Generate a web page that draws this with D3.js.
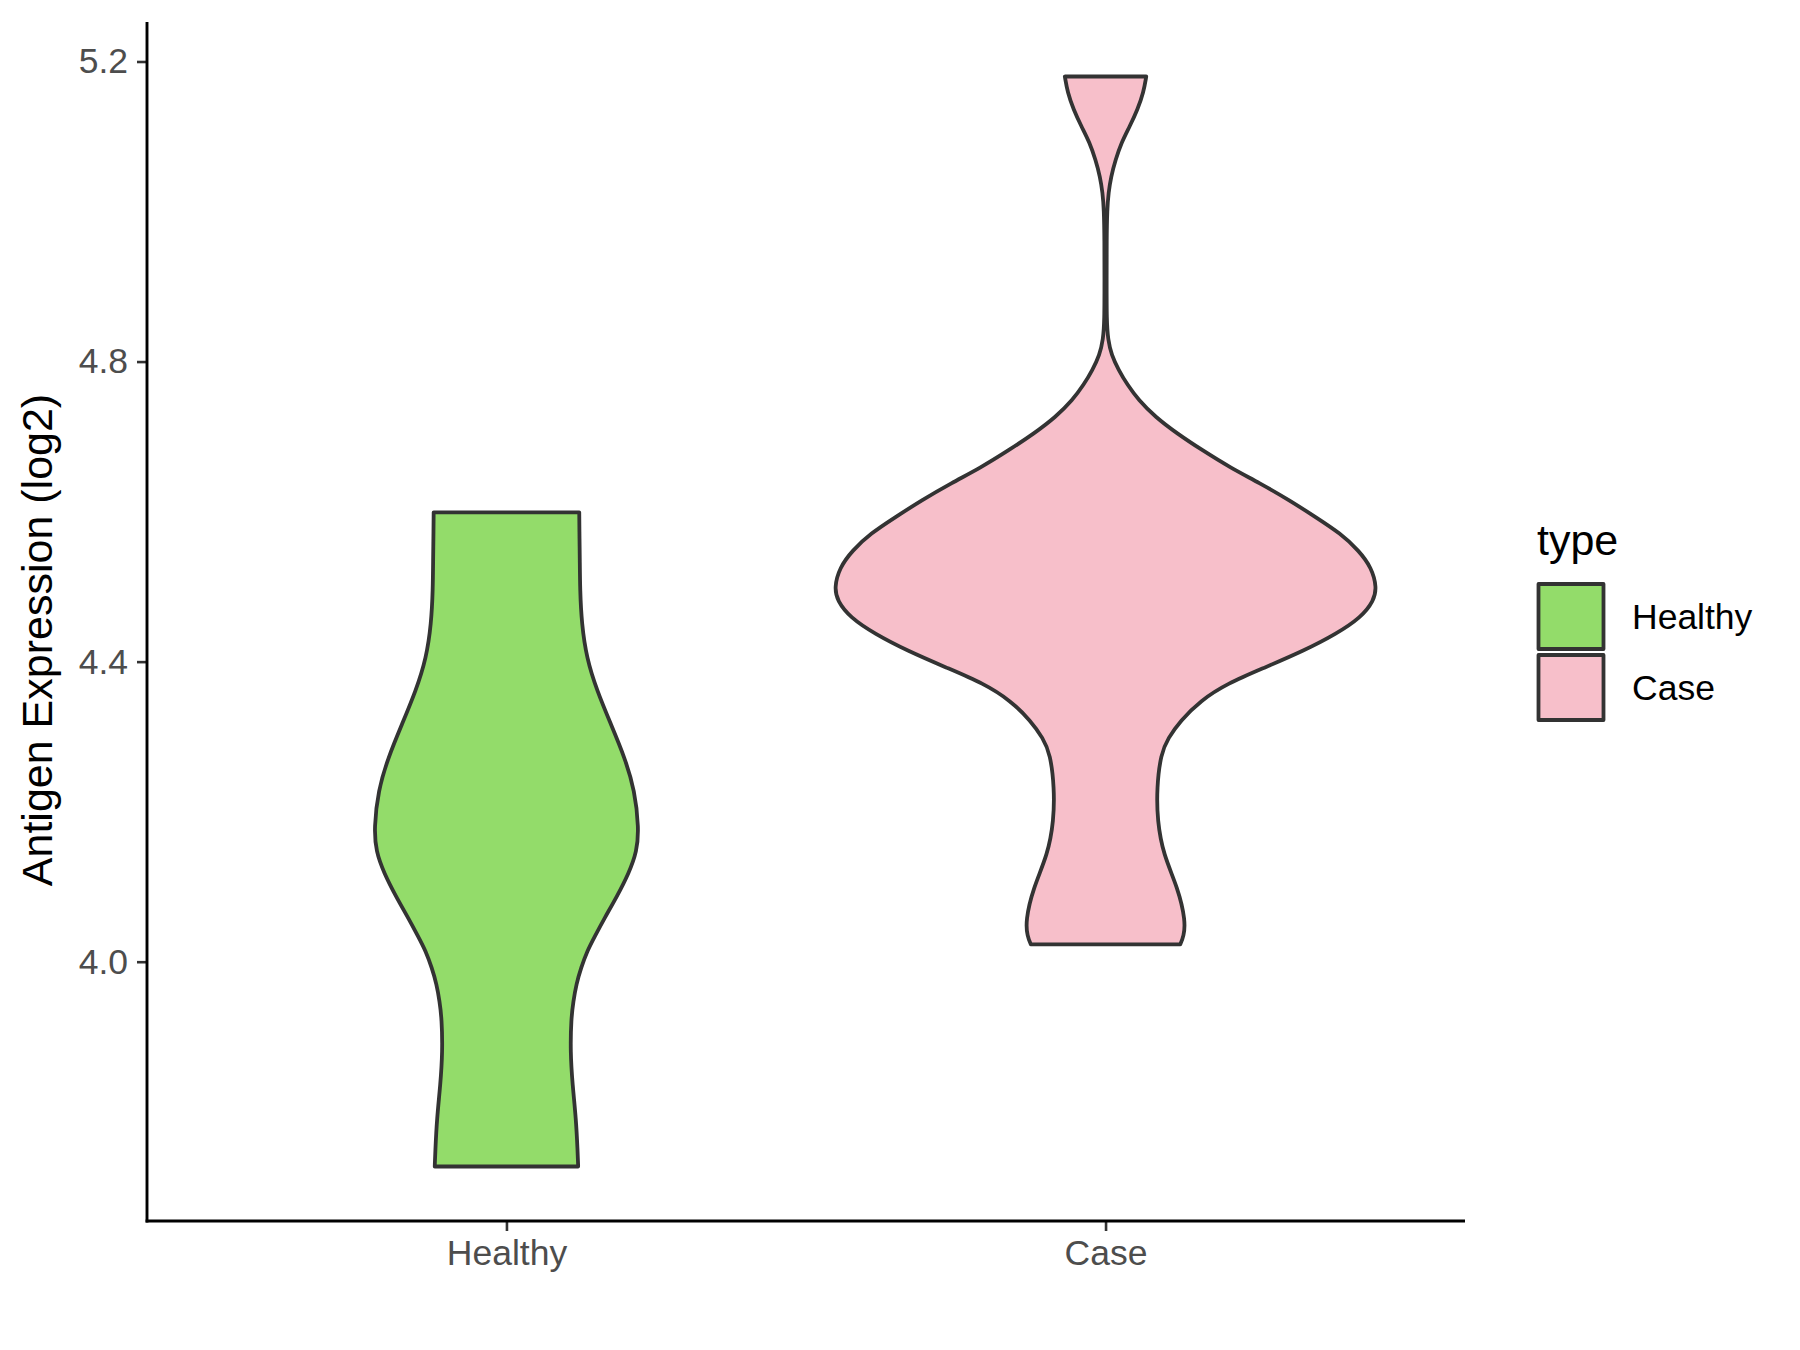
<!DOCTYPE html>
<html>
<head>
<meta charset="utf-8">
<script src="https://cdn.jsdelivr.net/npm/d3@7"></script>
<style>
  html, body { margin: 0; padding: 0; background: #ffffff; }
  svg { display: block; }
  text { font-family: "Liberation Sans", Arial, Helvetica, sans-serif; }
</style>
</head>
<body>
<svg id="chart" width="1800" height="1350"></svg>
<script>
// ---- data ----
const categories = ["Healthy", "Case"];
const fillColors = ["#93DC6A", "#F7BFCA"];
const yTicks = [4.0, 4.4, 4.8, 5.2];
const yTitle = "Antigen Expression (log2)";
const legendTitle = "type";

// violin outlines: expression value and relative half-width (1 = widest violin)
const healthyValues = [4.599, 4.562, 4.539, 4.495, 4.451, 4.405, 4.361, 4.317, 4.272, 4.228, 4.178, 4.147, 4.118, 4.087, 4.057, 4.034, 4.014, 3.992, 3.970, 3.947, 3.924, 3.880, 3.836, 3.791, 3.747, 3.727];
const healthyWidths = [0.270, 0.271, 0.272, 0.273, 0.279, 0.297, 0.336, 0.387, 0.439, 0.476, 0.491, 0.484, 0.454, 0.410, 0.362, 0.328, 0.299, 0.277, 0.259, 0.248, 0.240, 0.237, 0.245, 0.258, 0.264, 0.266];

const caseValues = [5.180, 5.159, 5.136, 5.113, 5.092, 5.069, 5.046, 5.025, 5.003, 4.962, 4.909, 4.855, 4.829, 4.809, 4.789, 4.769, 4.749, 4.726, 4.704, 4.682, 4.659, 4.638, 4.615, 4.592, 4.571, 4.548, 4.525, 4.499, 4.481, 4.459, 4.437, 4.415, 4.392, 4.371, 4.348, 4.321, 4.298, 4.277, 4.232, 4.188, 4.143, 4.098, 4.054, 4.034, 4.023];
const caseWidths = [0.151, 0.141, 0.119, 0.089, 0.059, 0.037, 0.020, 0.011, 0.006, 0.004, 0.004, 0.004, 0.009, 0.022, 0.048, 0.081, 0.122, 0.185, 0.266, 0.358, 0.461, 0.572, 0.683, 0.782, 0.871, 0.940, 0.987, 1.006, 0.995, 0.948, 0.856, 0.738, 0.590, 0.452, 0.352, 0.277, 0.232, 0.205, 0.190, 0.192, 0.214, 0.269, 0.297, 0.290, 0.277];

const series = [
  { name: "Healthy", values: healthyValues, widths: healthyWidths },
  { name: "Case", values: caseValues, widths: caseWidths }
];

// ---- layout ----
const svg = d3.select("#chart");
const panel = { left: 147, right: 1465, top: 22, bottom: 1221 };
const axisColor = "#000000";
const tickColor = "#333333";
const labelColor = "#4D4D4D";
const outline = "#333333";

const allVals = healthyValues.concat(caseValues);
const vMin = d3.min(allVals), vMax = d3.max(allVals);
const pad = (vMax - vMin) * 0.05;

const y = d3.scaleLinear().domain([vMin - pad, vMax + pad]).range([panel.bottom, panel.top]);
const x = d3.scalePoint().domain(categories).range([panel.left, panel.right]).padding(0.6);
const color = d3.scaleOrdinal().domain(categories).range(fillColors);
const halfW = d3.scaleLinear().domain([0, 1]).range([0, 0.45 * x.step()]);

// ---- violins ----
series.forEach(s => {
  const pts = s.values.map((v, i) => ({ v: v, w: s.widths[i] }));
  const cx = x(s.name);
  const area = d3.area()
    .y(d => y(d.v))
    .x0(d => cx - halfW(d.w))
    .x1(d => cx + halfW(d.w))
    .curve(d3.curveBasis);
  svg.append("path")
    .attr("d", area(pts))
    .attr("fill", color(s.name))
    .attr("stroke", outline)
    .attr("stroke-width", 3.8)
    .attr("stroke-linejoin", "round");
});

// ---- axes ----
const yAxis = d3.axisLeft(y).tickValues(yTicks).tickFormat(d3.format(".1f")).tickSize(10).tickPadding(9);
const gy = svg.append("g").attr("transform", `translate(${panel.left},0)`).call(yAxis);
gy.select(".domain").remove();
gy.selectAll(".tick line").attr("stroke", tickColor).attr("stroke-width", 2.6);
gy.selectAll(".tick text").attr("fill", labelColor).attr("font-size", 35.5)
  .attr("font-family", "Liberation Sans, Arial, sans-serif");

const xAxis = d3.axisBottom(x).tickSize(10).tickPadding(9);
const gx = svg.append("g").attr("transform", `translate(0,${panel.bottom})`).call(xAxis);
gx.select(".domain").remove();
gx.selectAll(".tick line").attr("stroke", tickColor).attr("stroke-width", 2.6);
gx.selectAll(".tick text").attr("fill", labelColor).attr("font-size", 35.5)
  .attr("font-family", "Liberation Sans, Arial, sans-serif");

// axis lines
svg.append("line").attr("x1", panel.left).attr("x2", panel.left)
  .attr("y1", panel.top).attr("y2", panel.bottom + 1.4)
  .attr("stroke", axisColor).attr("stroke-width", 2.9);
svg.append("line").attr("x1", panel.left - 1.4).attr("x2", panel.right)
  .attr("y1", panel.bottom).attr("y2", panel.bottom)
  .attr("stroke", axisColor).attr("stroke-width", 2.9);

// y title
svg.append("text")
  .attr("transform", `translate(52,640) rotate(-90)`)
  .attr("text-anchor", "middle")
  .attr("font-size", 43)
  .attr("fill", "#000")
  .text(yTitle);

// ---- legend ----
const legend = svg.append("g").attr("transform", "translate(1537,0)");
legend.append("text").attr("x", 0).attr("y", 555).attr("font-size", 43).attr("fill", "#000").text(legendTitle);
const keySize = 68;
categories.forEach((c, i) => {
  const top = 584 + i * (keySize + 3);
  legend.append("rect")
    .attr("x", 1.5).attr("y", top)
    .attr("width", keySize - 3).attr("height", keySize - 3)
    .attr("fill", color(c))
    .attr("stroke", outline).attr("stroke-width", 3.8)
    .attr("stroke-linejoin", "round");
  legend.append("text")
    .attr("x", 95).attr("y", top + keySize / 2 - 1.5)
    .attr("dominant-baseline", "central")
    .attr("font-size", 35.5).attr("fill", "#000")
    .text(c);
});
</script>
</body>
</html>
